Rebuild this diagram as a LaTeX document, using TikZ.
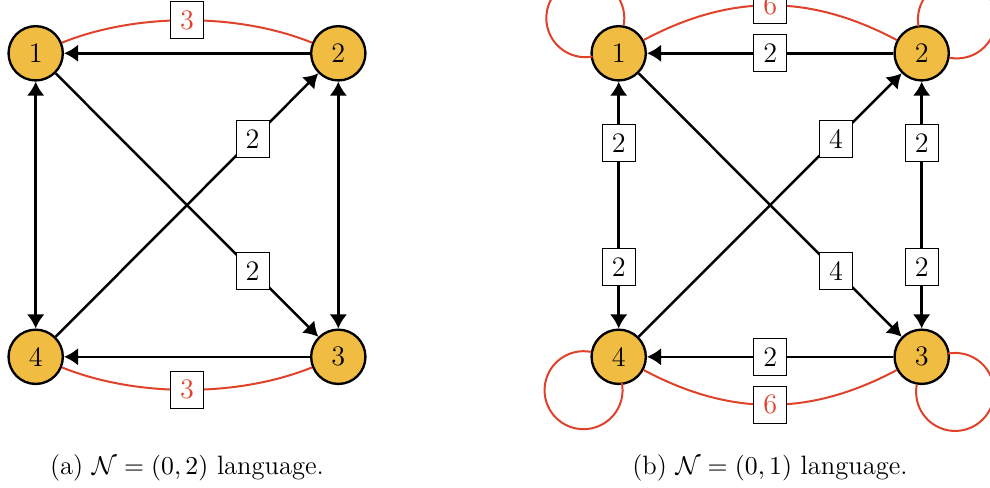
\documentclass[tikz,border=0pt]{standalone}
\usetikzlibrary{arrows.meta}
\definecolor{nodeyellow}{HTML}{F0BC42}
\definecolor{edgered}{HTML}{E0412B}
\begin{document}
\begin{tikzpicture}[x=0.4255pt,y=0.4255pt,
 vert/.style={circle,draw=black,fill=nodeyellow,line width=1pt,minimum size=23.1pt,inner sep=0pt,font=\large},
 lab/.style={draw=black,fill=white,line width=0.45pt,minimum width=14pt,minimum height=15.8pt,inner sep=0pt,font=\large},
 rlab/.style={lab,text=edgered},
 arr/.style={line width=1.05pt,-{Latex[length=6pt,width=7.5pt]}},
 darr/.style={line width=1.05pt,{Latex[length=6pt,width=7.5pt]}-{Latex[length=6pt,width=7.5pt]}},
 redc/.style={draw=edgered,line width=0.85pt},
 capt/.style={anchor=base,font=\fontsize{11.3}{13.5}\selectfont}]
\useasboundingbox (0,0) rectangle (990,-488);
% left graph
\node[vert] (n1) at (35.7,-53.3) {1};
\node[vert] (n2) at (338.3,-53.3) {2};
\node[vert] (n3) at (338.3,-356.8) {3};
\node[vert] (n4) at (35.7,-356.8) {4};
\draw[redc] (n1) to[out=22,in=158,looseness=0.82] node[rlab] {3} (n2);
\draw[redc] (n4) to[out=-22,in=-158,looseness=0.82] node[rlab] {3} (n3);
\draw[arr] (n2) -- (n1);
\draw[arr] (n3) -- (n4);
\draw[darr] (n1) -- (n4);
\draw[darr] (n2) -- (n3);
\draw[arr] (n1) -- node[lab,pos=0.75] {2} (n3);
\draw[arr] (n4) -- node[lab,pos=0.75] {2} (n2);
\node[capt] (capa) at (187,-474) {(a) $\mathcal{N}=(0,2)$ language.};
% right graph
\node[vert] (m1) at (618.7,-53.3) {1};
\node[vert] (m2) at (921.7,-53.3) {2};
\node[vert] (m3) at (921.7,-356.8) {3};
\node[vert] (m4) at (618.7,-356.8) {4};
\draw[redc] (m1.80.7) arc[start angle=-10.7, end angle=280.7, radius=39];
\draw[redc] (m2.-9.3) arc[start angle=-100.7, end angle=190.7, radius=39];
\draw[redc] (m3.260.7) arc[start angle=169.3, end angle=460.7, radius=39];
\draw[redc] (m4.170.7) arc[start angle=79.3, end angle=370.7, radius=39];
\draw[redc] (m1) to[out=28,in=152,looseness=1] node[rlab] {6} (m2);
\draw[redc] (m4) to[out=-28,in=-152,looseness=1] node[rlab] {6} (m3);
\draw[arr] (m2) -- node[lab] {2} (m1);
\draw[arr] (m3) -- node[lab] {2} (m4);
\draw[darr] (m1) -- node[lab,pos=0.25] {2} node[lab,pos=0.75] {2} (m4);
\draw[darr] (m2) -- node[lab,pos=0.25] {2} node[lab,pos=0.75] {2} (m3);
\draw[arr] (m1) -- node[lab,pos=0.75] {4} (m3);
\draw[arr] (m4) -- node[lab,pos=0.75] {4} (m2);
\node[capt] (capb) at (770,-474) {(b) $\mathcal{N}=(0,1)$ language.};
\end{tikzpicture}
\end{document}
